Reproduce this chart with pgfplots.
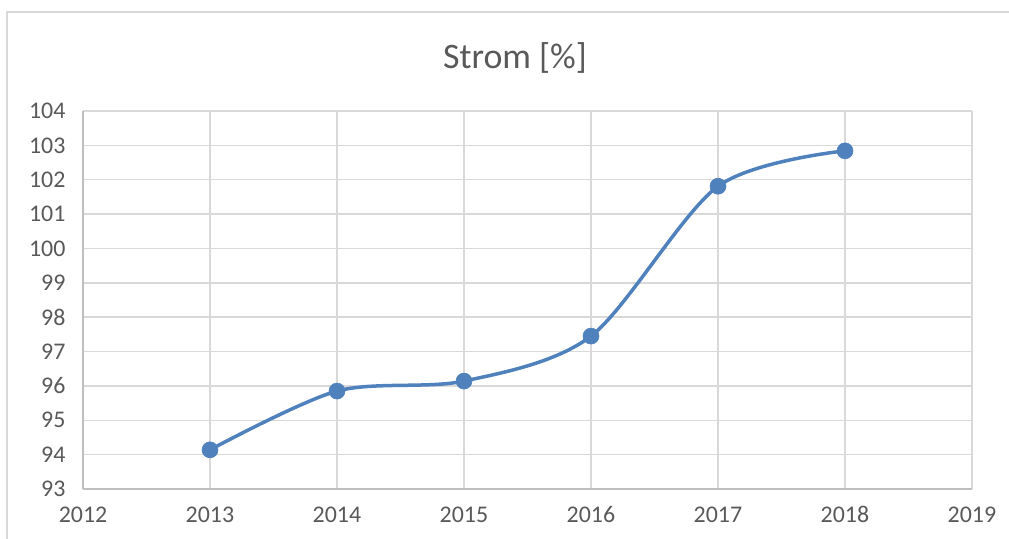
\documentclass[border=0pt]{standalone}
\usepackage{pgfplots}
\pgfplotsset{compat=1.18}
\usepackage{fontspec}
\setmainfont{Carlito}
\definecolor{gridgray}{HTML}{D9D9D9}
\definecolor{axisgray}{HTML}{BFBFBF}
\definecolor{textgray}{HTML}{595959}
\definecolor{lineblue}{HTML}{4F81BD}
\begin{document}
\begin{tikzpicture}[x=1bp,y=1bp]
\path[use as bounding box] (0,0) rectangle (1009,539);
\draw[gridgray, line width=1.5bp] (7,-5) -- (7,527) -- (1015,527);
\node[text=textgray, font=\fontsize{36}{42}\selectfont] at (515,481) {Strom [\%]};
\begin{axis}[
  at={(83bp,50bp)}, anchor=south west,
  scale only axis, width=889bp, height=378bp,
  xmin=2012, xmax=2019, ymin=93, ymax=104,
  xtick={2012,...,2019}, ytick={93,...,104},
  grid=major,
  major grid style={gridgray, line width=1.5bp},
  axis line style={axisgray, line width=1.5bp},
  axis x line*=bottom, axis y line*=left,
  x axis line style={-}, y axis line style={-},
  major tick length=0pt,
  tick style={draw=none},
  /pgf/number format/1000 sep={},
  /pgf/number format/assume math mode=true,
  ticklabel style={text=textgray, font=\fontsize{24}{28}\selectfont},
  xticklabel style={yshift=-14bp},
  yticklabel style={xshift=-14bp},
  clip=false,
]
\addplot[lineblue, line width=3.5bp, smooth, tension=0.5, mark=*, mark size=8bp,
  mark options={solid, fill=lineblue, draw=lineblue, line width=0.6bp}]
  coordinates {(2013,94.14) (2014,95.85) (2015,96.14) (2016,97.45) (2017,101.81) (2018,102.84)};
\end{axis}
\end{tikzpicture}
\end{document}
